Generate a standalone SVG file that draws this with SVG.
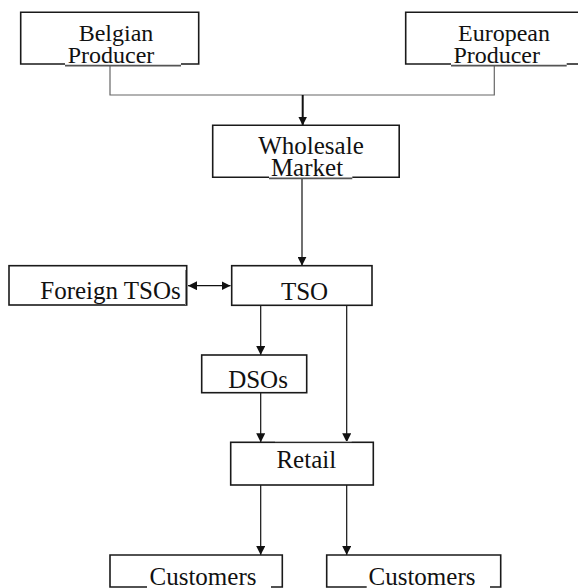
<svg xmlns="http://www.w3.org/2000/svg" width="578" height="588" viewBox="0 0 578 588">
<style>
.box{fill:#fff;stroke:#1a1a1a;stroke-width:1.6}
.edge{fill:none;stroke:#1a1a1a;stroke-width:1.6}
text{font-family:'Liberation Serif','DejaVu Serif',serif;font-size:25px;fill:#111;text-anchor:middle}
.tp{font-size:24px}
.ul{stroke:#555;stroke-width:1.8}
.c{fill:none;stroke:#111;stroke-width:1.2}
.cg{fill:none;stroke:#666;stroke-width:1.2}
</style>
<defs>
<marker id="ah" markerUnits="userSpaceOnUse" markerWidth="9" markerHeight="9" viewBox="0 0 10 10" refX="10" refY="5" orient="auto-start-reverse">
<path d="M0,0 L10,5 L0,10 z" fill="#111"/>
</marker>
</defs>
<g id="connectors">
<path class="cg" d="M110,66 V95 H494.3 V66"/>
<line x1="302.7" y1="95" x2="302.7" y2="125.5" stroke="#111" stroke-width="2" marker-end="url(#ah)"/>
<line class="c" x1="302" y1="178" x2="302" y2="265.7" marker-end="url(#ah)"/>
<line class="c" x1="188" y1="285.7" x2="230.5" y2="285.7" marker-start="url(#ah)" marker-end="url(#ah)"/>
<line class="c" x1="260.7" y1="305.5" x2="260.7" y2="355" marker-end="url(#ah)"/>
<line class="c" x1="346.7" y1="305.5" x2="346.7" y2="442.3" marker-end="url(#ah)"/>
<line class="c" x1="260.7" y1="392.7" x2="260.7" y2="442.3" marker-end="url(#ah)"/>
<line class="c" x1="260.7" y1="485" x2="260.7" y2="555" marker-end="url(#ah)"/>
<line class="c" x1="346.7" y1="485" x2="346.7" y2="555" marker-end="url(#ah)"/>
</g>
<g id="belgian-producer">
<path class="edge" d="M65,64 H20.7 V12.3 H198.7 V64 H181"/>
<text class="tp" x="116" y="40.7" font-family="Liberation Serif, serif">Belgian</text>
<text class="tp" x="111" y="62.7" font-family="Liberation Serif, serif">Producer</text>
<line class="ul" x1="65" y1="65.7" x2="181" y2="65.7"/>
</g>
<g id="european-producer">
<path class="edge" d="M451,64 H405.7 V12.3 H580 M566.7,64 H580"/>
<text class="tp" x="504" y="40.7" font-family="Liberation Serif, serif">European</text>
<text class="tp" x="496.7" y="62.7" font-family="Liberation Serif, serif">Producer</text>
<line class="ul" x1="451" y1="65.7" x2="566.7" y2="65.7"/>
</g>
<g id="wholesale-market">
<path class="edge" d="M269,177.3 H212.7 V125.3 H399.2 V177.3 H352.3"/>
<text x="311" y="154" font-family="Liberation Serif, serif">Wholesale</text>
<text x="307" y="175.7" font-family="Liberation Serif, serif">Market</text>
<line class="ul" x1="269" y1="178.3" x2="352.3" y2="178.3"/>
</g>
<g id="foreign-tsos">
<rect class="box" x="9" y="265.7" width="177.7" height="39.3"/>
<line x1="185.5" y1="270" x2="185.5" y2="305" stroke="#888" stroke-width="1"/>
<text x="110.5" y="299.3" font-family="Liberation Serif, serif">Foreign TSOs</text>
</g>
<g id="tso">
<rect class="box" x="231.7" y="265.7" width="140.3" height="39.6"/>
<text x="304.5" y="300" font-family="Liberation Serif, serif">TSO</text>
</g>
<g id="dsos">
<rect class="box" x="201.7" y="355" width="105" height="37.7"/>
<text x="258" y="388.3" font-family="Liberation Serif, serif">DSOs</text>
</g>
<g id="retail">
<rect class="box" x="230.7" y="442.3" width="142.6" height="42.7"/>
<line x1="275" y1="441.6" x2="351.7" y2="441.6" stroke="#bbb" stroke-width="1"/>
<text x="306.3" y="467.7" font-family="Liberation Serif, serif">Retail</text>
</g>
<g id="customers-1">
<path class="edge" d="M147,587 H110 V555 H282.3 V587 H271"/>
<text x="203" y="585" font-family="Liberation Serif, serif">Customers</text>
</g>
<g id="customers-2">
<path class="edge" d="M366.7,587 H326.7 V555 H500.7 V587 H490"/>
<text x="422" y="585" font-family="Liberation Serif, serif">Customers</text>
</g>
</svg>
